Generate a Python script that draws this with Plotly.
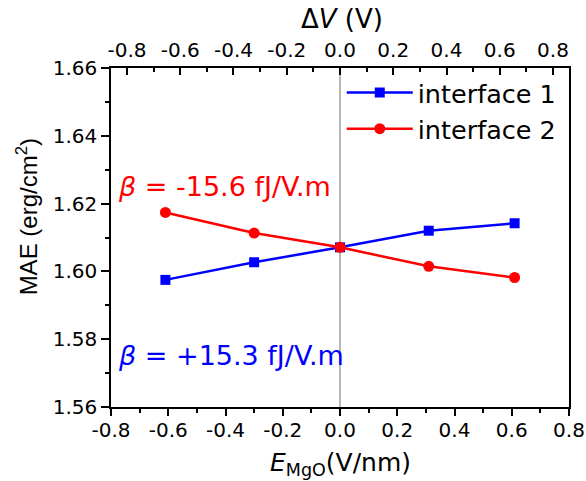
import plotly.graph_objects as go

# Data
e_field = [-0.61, -0.30, 0.0, 0.31, 0.61]          # E_MgO (V/nm)
mae_interface1 = [1.5975, 1.6027, 1.6071, 1.6120, 1.6142]
mae_interface2 = [1.6174, 1.6113, 1.6071, 1.6015, 1.5982]
series_names = ["interface 1", "interface 2"]
x_ticks = [-0.8, -0.6, -0.4, -0.2, 0.0, 0.2, 0.4, 0.6, 0.8]
y_ticks = [1.56, 1.58, 1.60, 1.62, 1.64, 1.66]
dv_range = [-0.86, 0.86]
beta_labels = ["<i>β</i> = -15.6 fJ/V.m", "<i>β</i> = +15.3 fJ/V.m"]

FONT = "DejaVu Sans"
W, H = 586, 481
L, R, T, B = 111, 16.5, 67.5, 74
pw = W - L - R
ph = H - T - B

fig = go.Figure()
fig.add_trace(go.Scatter(
    x=e_field, y=mae_interface1, name=series_names[0], mode="lines+markers",
    line=dict(color="#0000ff", width=2.5),
    marker=dict(symbol="square", size=10, color="#0000ff"),
))
fig.add_trace(go.Scatter(
    x=e_field, y=mae_interface2, name=series_names[1], mode="lines+markers",
    line=dict(color="#ff0000", width=2.5),
    marker=dict(symbol="circle", size=11, color="#ff0000"),
))

# vertical zero line
fig.add_shape(type="line", xref="x", yref="paper", x0=0, x1=0, y0=0, y1=1,
              line=dict(color="#a0a0a0", width=1.5), layer="below")

fig.update_layout(
    width=W, height=H,
    margin=dict(l=L, r=R, t=T, b=B, autoexpand=False),
    paper_bgcolor="white", plot_bgcolor="white",
    font=dict(family=FONT, size=20, color="black"),
    showlegend=True,
    legend=dict(x=(342 - L) / pw, y=1 - (69 - T) / ph, xanchor="left", yanchor="top",
                font=dict(family=FONT, size=25.5, color="black"),
                bgcolor="rgba(0,0,0,0)", tracegroupgap=0, itemwidth=66),
    xaxis=dict(
        range=[-0.8, 0.8], tickvals=x_ticks, ticktext=[f"{v:.1f}" for v in x_ticks],
        showline=True, linecolor="black", linewidth=1.5, mirror=False,
        ticks="outside", ticklen=7, tickwidth=1.5, tickcolor="black",
        minor=dict(dtick=0.1, ticks="outside", ticklen=4, tickwidth=1.5, tickcolor="black"),
        showgrid=False, zeroline=False, ticklabelstandoff=-3,
        tickfont=dict(family=FONT, size=20),
    ),
    xaxis2=dict(
        range=dv_range, overlaying="x", side="top", anchor="y",
        tickvals=x_ticks, ticktext=[f"{v:.1f}" for v in x_ticks],
        showline=True, linecolor="black", linewidth=1.5,
        ticks="inside", ticklen=7, tickwidth=1.5, tickcolor="black",
        minor=dict(dtick=0.1, ticks="inside", ticklen=4, tickwidth=1.5, tickcolor="black"),
        showgrid=False, zeroline=False, ticklabelstandoff=1,
        tickfont=dict(family=FONT, size=20),
    ),
    yaxis=dict(
        range=[1.56, 1.66], tickvals=y_ticks, ticktext=[f"{v:.2f}" for v in y_ticks],
        showline=True, linecolor="black", linewidth=1.5, mirror=True,
        ticks="outside", ticklen=8, tickwidth=1.5, tickcolor="black",
        minor=dict(dtick=0.01, ticks="outside", ticklen=4, tickwidth=1.5, tickcolor="black"),
        showgrid=False, zeroline=False,
        tickfont=dict(family=FONT, size=20),
    ),
)

# invisible trace so the top (ΔV) axis is drawn
fig.add_trace(go.Scatter(x=[dv_range[0]], y=[None], xaxis="x2", yaxis="y",
                         showlegend=False, hoverinfo="skip", mode="markers",
                         marker=dict(opacity=0)))

annotations = [
    dict(text="<i>E</i><sub>MgO</sub>(V/nm)", xref="paper", yref="paper",
         x=0.5, y=-(464 - T - ph) / ph, xanchor="center", yanchor="middle",
         showarrow=False, font=dict(family=FONT, size=25)),
    dict(text="Δ<i>V</i> (V)", xref="paper", yref="paper",
         x=(342 - L) / pw, y=1 + (T - 18) / ph, xanchor="center", yanchor="middle",
         showarrow=False, font=dict(family=FONT, size=26)),
    dict(text="MAE (erg/cm<sup>2</sup>)", xref="paper", yref="paper",
         x=-(L - 27) / pw, y=1 - (217 - T) / ph, xanchor="center", yanchor="middle",
         textangle=-90, showarrow=False, font=dict(family="Liberation Sans", size=24)),
    dict(text=beta_labels[0], xref="paper", yref="paper",
         x=(116 - L) / pw, y=1 - (186 - T) / ph, xanchor="left", yanchor="middle",
         showarrow=False, font=dict(family=FONT, size=27, color="#ff0000")),
    dict(text=beta_labels[1], xref="paper", yref="paper",
         x=(116 - L) / pw, y=1 - (355 - T) / ph, xanchor="left", yanchor="middle",
         showarrow=False, font=dict(family=FONT, size=27, color="#0000ff")),
]
fig.update_layout(annotations=annotations)

fig.write_html(
    "out.html",
    config={"displayModeBar": False},
    post_script="document.documentElement.style.margin='0';document.body.style.margin='0';"
                "document.body.style.overflow='hidden';",
)
